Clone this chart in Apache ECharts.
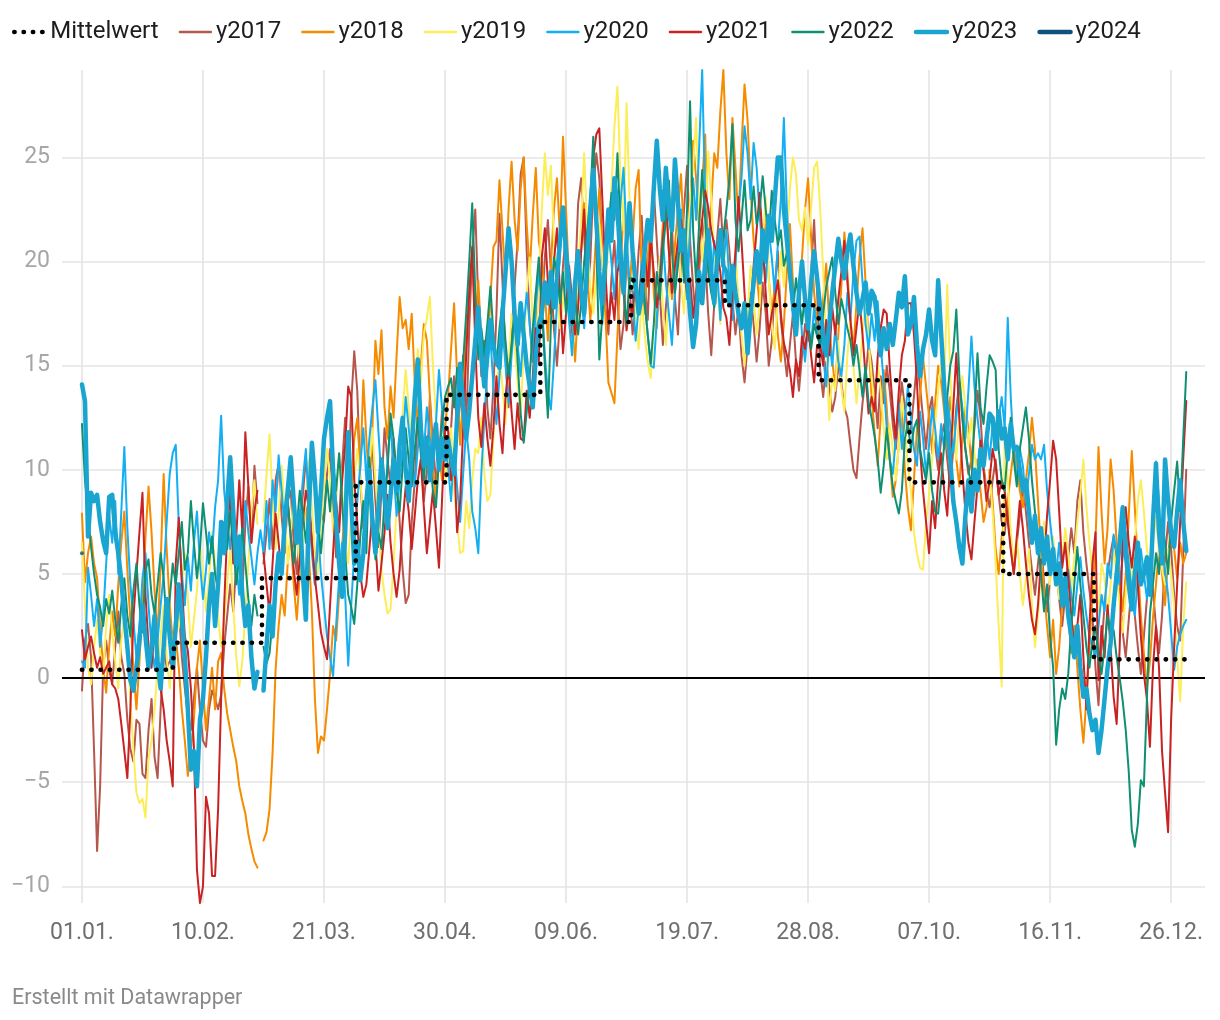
<!DOCTYPE html>
<html><head><meta charset="utf-8">
<script src="https://cdn.jsdelivr.net/npm/echarts@6/dist/echarts.min.js"></script>
<style>html,body{margin:0;padding:0;background:#fff}#c{width:1220px;height:1020px}</style>
</head><body><div id="c"></div>
<script>
// ---- axis ticks ----
const xTickPositions = [0,40,80,120,160,200,240,280,320,360];
const xTickLabels = ['01.01.','10.02.','21.03.','30.04.','09.06.','19.07.','28.08.','07.10.','16.11.','26.12.'];
const yTicks = [-10,-5,0,5,10,15,20,25];

// ---- long-term monthly mean (Mittelwert), days per month (leap-year calendar) ----
const monthDays = [31,29,31,30,31,30,31,31,30,31,30,31];
const mittelwertMonthly = [0.4,1.7,4.8,9.4,13.6,17.1,19.1,17.9,14.3,9.4,5.0,0.9];

// ---- daily values, one array per month ----
const y2017 = [
[-0.6,1.8,2.6,1.0,-3.5,-8.3,-5.2,0.5,1.8,0.4,-0.3,1.5,3.2,1.0,0.2,-2.0,-3.4,-4.0,-2.0,-2.2,-4.6,-4.8,-2.5,-1.0,-3.8,-4.8,-1.5,1.5,0.5,0.8,1.2],
[2.0,3.5,1.0,-0.5,-1.8,-2.5,-1.0,0.5,-1.5,-3.0,-3.3,-1.5,-0.6,-1.0,-1.5,-0.8,1.5,3.0,4.5,3.2,5.5,6.0,4.0,7.5,9.2,6.5,10.2,8.4],
[5.5,7.0,8.6,6.2,9.5,10.3,7.8,6.0,8.5,9.0,6.5,5.0,7.2,8.8,10.5,9.0,6.8,4.5,6.0,8.0,7.5,9.8,11.0,8.2,5.8,7.6,10.2,12.5,9.0,13.2,15.7],
[13.8,9.5,7.2,8.0,10.5,11.2,8.5,6.3,9.0,12.0,10.5,9.2,11.5,9.8,7.5,5.2,3.6,4.0,7.5,9.5,12.5,11.0,8.5,10.0,13.5,11.2,9.5,10.5,12.8,11.0],
[10.5,12.0,14.5,11.8,13.2,15.5,12.0,16.8,20.5,22.5,18.0,14.5,16.2,13.0,11.5,14.0,17.5,22.3,19.0,15.5,13.0,16.5,18.8,21.0,24.2,25.0,20.5,17.0,15.2,18.5,16.0],
[17.5,20.2,22.0,19.5,16.8,15.0,17.2,19.8,21.5,18.0,16.2,19.0,22.8,24.0,21.2,18.5,20.0,23.5,25.2,24.0,20.5,17.8,16.5,19.2,21.0,18.2,15.8,17.0,20.2,18.8],
[16.5,18.0,20.5,22.2,19.0,17.2,20.8,23.5,21.0,18.5,16.0,17.8,19.5,21.8,18.2,16.5,20.0,22.5,24.6,21.0,18.8,17.0,19.5,22.0,20.2,17.5,15.5,18.0,21.2,23.0,20.5],
[22.0,20.5,18.2,16.5,17.8,15.5,14.2,16.0,18.5,17.0,15.2,16.8,19.0,17.5,15.0,16.2,18.8,20.5,17.2,15.8,14.5,16.0,17.5,15.2,13.8,15.5,17.0,16.2,19.5,22.0,18.5],
[14.8,13.5,15.2,14.0,12.8,13.5,15.0,14.2,13.0,12.5,11.2,10.0,9.6,11.5,13.2,14.5,16.0,15.2,13.8,12.0,14.5,13.2,15.0,13.8,12.2,11.0,12.8,14.2,13.0,11.8],
[12.0,13.5,15.2,14.0,12.5,11.0,12.8,13.5,11.2,10.0,11.5,12.2,10.5,9.2,11.0,13.0,14.2,12.5,11.0,9.8,10.5,12.0,13.8,12.5,10.2,9.0,8.2,9.5,10.5,8.8,7.5],
[7.0,8.5,6.2,5.0,6.5,7.8,9.2,8.0,6.5,5.2,4.0,5.5,6.8,4.5,3.2,4.8,6.0,5.2,3.8,2.5,4.0,5.8,7.2,6.0,8.5,9.5,7.0,5.5,4.2,3.0],
[0.5,-1.3,1.5,3.5,5.0,6.0,6.8,5.2,4.0,2.2,1.0,2.8,4.5,3.0,1.5,0.2,2.0,3.8,5.5,4.2,2.5,1.2,3.0,5.8,7.5,6.2,4.0,2.5,1.8,6.0,10.0]
];
const y2018 = [
[7.9,4.6,6.0,6.8,5.5,4.8,2.5,0.5,-0.7,1.5,3.2,2.0,4.5,6.5,8.0,5.2,2.8,0.5,-1.5,0.8,3.5,6.8,9.2,7.0,4.2,2.0,5.5,9.8,6.2,3.5,1.8],
[2.0,0.5,-1.5,-3.0,-4.7,-3.5,-2.0,0.5,1.8,-0.5,-2.5,-1.0,0.5,-1.5,0.8,1.2,-0.5,-1.7,-2.5,-3.3,-4.0,-5.2,-5.9,-6.5,-7.5,-8.2,-8.8,-9.1],
[-7.8,-7.4,-6.3,-3.6,0.4,2.5,4.0,3.0,5.5,6.8,4.5,2.8,5.0,7.5,8.2,6.0,3.2,-1.0,-3.6,-2.8,-3.0,-1.5,0.2,2.5,1.8,4.0,6.3,8.5,10.2,9.0,11.5],
[12.5,10.0,14.3,11.5,8.8,12.0,16.2,14.6,16.7,13.0,11.5,14.0,12.5,15.5,18.3,16.8,17.2,15.8,17.5,14.2,12.0,15.0,17.0,16.2,13.5,10.2,8.5,11.0,9.5,12.0],
[13.5,15.8,18.0,14.5,11.2,13.8,16.5,19.2,20.4,17.0,19.1,16.2,14.0,15.5,18.2,20.7,21.0,23.9,21.5,19.0,22.5,24.8,22.0,20.5,23.5,25.0,21.8,19.5,22.2,24.5,21.0],
[20.0,18.5,16.2,19.8,22.5,24.0,21.2,26.0,22.5,19.0,17.5,15.2,18.0,20.5,22.8,19.5,17.2,18.8,21.5,23.5,20.0,17.5,14.2,13.7,13.2,16.5,19.5,22.5,20.8,18.5],
[21.0,23.5,24.4,19.4,17.5,20.2,22.0,18.5,16.8,19.5,21.8,23.0,20.5,18.2,20.8,22.5,24.2,21.0,19.2,22.5,25.8,24.0,21.5,23.8,26.1,20.2,22.8,25.2,24.5,27.2,29.2],
[25.2,23.0,26.9,24.5,22.0,25.5,28.5,26.8,23.5,21.0,19.5,17.8,20.5,22.0,19.2,17.5,18.8,16.5,15.2,17.0,19.5,21.8,19.0,16.8,18.5,20.2,22.5,24.0,21.2,18.5,17.0],
[16.5,18.2,19.9,17.0,15.2,14.0,16.5,18.8,21.4,19.5,17.2,15.8,18.0,20.2,21.6,19.0,16.2,13.5,11.8,10.2,12.5,14.8,13.0,10.5,8.7,9.5,11.2,12.8,10.0,8.2],
[7.1,9.5,12.0,13.5,15.4,14.0,12.5,10.8,13.2,15.0,14.2,12.8,11.0,13.5,12.2,10.5,9.2,11.5,13.0,12.0,10.2,8.8,10.5,9.0,7.5,8.2,10.0,8.5,6.2,5.0,6.8],
[7.6,8.5,9.8,11.0,10.2,9.0,8.2,9.5,10.8,12.5,11.0,8.5,6.0,4.2,2.5,1.0,2.8,0.2,1.5,3.5,4.8,3.0,1.2,2.5,0.5,-1.5,-3.1,-1.0,1.5,4.0],
[6.5,11.1,8.0,5.5,7.2,10.5,9.0,6.5,4.8,3.2,5.0,7.8,10.9,8.2,5.5,3.0,1.2,-0.5,0.8,2.9,4.5,6.2,5.0,3.5,5.8,7.5,6.2,4.8,6.5,5.5,6.0]
];
const y2019 = [
[6.5,3.5,0.5,-0.3,1.5,2.8,1.2,0.0,2.5,4.0,2.2,0.8,-0.5,1.8,3.0,1.5,-1.0,-3.5,-5.5,-6.0,-5.8,-6.7,-3.9,-3.0,-1.5,0.5,2.0,3.5,1.0,-0.5,1.5],
[3.0,2.4,4.5,6.0,3.8,1.5,2.8,4.2,6.5,5.0,3.2,4.8,7.0,5.5,3.0,1.5,2.8,4.5,6.2,3.5,1.0,-0.4,0.8,3.2,5.5,8.0,9.5,7.4],
[7.5,9.8,11.7,8.5,6.2,7.8,10.2,8.0,5.5,6.8,9.0,7.2,5.0,6.5,8.8,10.5,8.2,6.0,5.0,7.5,9.2,11.0,9.5,7.0,8.5,10.8,9.0,6.5,5.5,7.8,9.5],
[11.0,9.5,7.8,8.5,10.2,12.0,9.5,7.5,5.2,4.0,3.1,3.3,5.5,8.2,10.5,12.8,14.8,13.0,11.2,13.5,15.8,14.2,16.5,17.3,18.3,15.0,12.5,10.0,11.8,9.5],
[10.5,12.0,9.0,7.5,6.0,6.1,8.5,7.2,9.5,11.0,10.8,12.5,9.8,8.5,8.8,11.5,13.8,15.5,14.0,12.2,15.0,17.5,16.0,14.2,12.5,15.8,18.5,20.2,17.0,15.5,19.0],
[22.5,25.2,23.2,24.6,21.0,18.5,16.8,18.0,20.5,17.2,15.5,16.8,19.5,22.0,25.2,21.5,18.8,17.5,19.2,21.8,20.2,18.5,20.8,23.5,26.5,28.4,24.0,21.5,27.6,23.0],
[20.0,17.5,15.8,18.2,16.5,15.2,14.4,16.8,18.5,20.2,17.8,16.0,18.5,20.0,19.2,21.5,19.0,17.5,20.5,22.8,24.5,26.9,22.5,20.0,21.8,25.3,23.0,20.5,18.8,17.0,19.5],
[21.5,19.0,17.8,20.5,18.2,16.5,15.0,17.5,19.8,18.2,16.5,18.0,21.0,23.1,19.2,17.0,15.8,18.2,20.5,18.8,21.2,23.5,25.0,24.2,22.0,21.5,22.6,20.8,22.5,24.5,24.8],
[22.6,19.5,16.0,12.4,14.5,13.8,16.2,14.0,12.8,15.5,17.2,15.0,13.2,14.8,16.5,18.0,16.2,14.5,13.0,15.2,13.8,12.0,10.5,12.2,11.0,9.5,11.2,13.5,12.0,10.2],
[9.0,7.0,6.0,5.3,5.2,7.5,8.8,10.5,12.2,13.8,15.2,14.0,18.9,14.5,12.0,10.5,12.8,14.5,13.0,11.2,12.5,10.8,9.5,11.2,10.0,8.5,9.8,8.0,5.5,2.5,-0.4],
[12.2,9.5,7.0,5.5,6.8,5.0,3.5,4.8,6.2,3.5,1.5,3.0,5.2,7.5,6.0,4.5,6.8,5.2,3.8,5.5,7.2,6.0,4.2,5.8,7.5,8.8,10.5,8.2,6.5,5.0],
[4.0,3.2,5.5,4.8,3.0,4.5,6.2,5.0,3.5,2.2,4.0,5.8,4.5,6.5,8.5,9.5,8.0,6.2,5.0,6.5,7.8,6.0,5.2,4.5,6.2,5.0,3.5,1.0,-1.1,2.5,4.6]
];
const y2020 = [
[0.8,0.5,5.3,4.0,2.5,3.8,1.5,3.0,5.5,7.8,6.5,8.5,5.0,8.0,11.1,7.2,4.5,2.8,1.0,2.5,4.8,6.0,3.5,1.5,0.5,1.8,3.5,5.0,7.5,9.8,10.8],
[11.2,7.4,5.0,3.5,5.8,4.2,6.5,8.0,5.5,3.8,5.2,7.0,6.0,8.2,9.5,12.6,9.0,7.5,6.2,8.0,5.5,4.0,6.2,8.5,7.0,5.8,4.5,6.0,7.1],
[6.0,8.5,6.2,9.5,8.0,10.7,9.0,7.2,8.5,10.2,8.8,6.5,7.8,9.5,11.0,8.2,6.0,4.5,7.2,5.0,3.5,2.0,1.0,0.1,2.5,4.8,6.5,4.0,0.6,3.5,6.0],
[8.5,10.2,12.0,9.5,11.5,13.0,14.3,11.8,9.5,8.0,10.5,12.2,10.0,7.8,9.5,11.2,13.5,12.0,10.5,9.2,11.0,12.5,10.8,13.0,11.5,10.0,12.2,14.8,13.0,11.0],
[10.2,8.5,11.0,9.2,7.5,9.8,12.0,10.5,8.0,7.2,6.0,9.8,12.5,14.8,16.4,14.0,12.2,14.5,16.8,15.0,13.2,15.5,17.2,16.0,14.5,16.8,18.5,17.0,15.2,17.8,19.5],
[18.0,15.5,13.7,12.9,15.2,18.0,20.5,22.6,19.0,17.2,15.5,17.8,20.2,18.5,16.8,19.5,22.0,24.0,21.5,18.8,17.0,19.2,21.5,20.0,18.2,20.5,22.8,24.5,21.2,19.0],
[18.5,16.2,17.8,20.0,18.2,16.5,15.0,14.9,17.2,19.5,21.2,19.0,17.5,16.0,18.5,20.8,22.5,20.0,18.2,21.5,24.0,22.0,25.5,29.2,22.9,20.5,18.8,21.0,19.5,17.2,19.8],
[21.5,19.0,17.2,19.8,22.5,24.0,26.5,25.2,23.0,25.7,24.5,22.2,20.5,19.0,21.5,20.2,18.5,20.8,23.0,26.9,22.5,20.0,18.2,17.0,18.8,16.5,15.2,17.0,16.0,17.8,16.5],
[17.0,15.5,14.0,16.2,15.0,16.8,15.2,14.5,16.0,18.5,17.2,19.5,21.0,21.2,19.0,17.0,15.8,17.5,16.2,18.1,16.0,14.2,12.0,10.5,9.8,11.5,13.2,11.0,12.5,14.0],
[12.5,11.0,10.2,12.8,11.5,9.8,11.2,13.0,12.0,10.5,12.2,11.0,13.5,12.2,10.8,12.5,14.2,13.0,11.5,13.8,16.4,14.0,12.5,11.2,10.0,11.8,10.5,12.2,11.0,12.5,13.5],
[12.0,17.3,13.5,10.8,9.5,11.0,10.2,8.5,9.8,11.2,10.5,10.8,10.5,11.2,9.0,7.5,6.2,5.0,6.5,4.8,3.5,5.2,4.0,3.0,4.5,5.8,4.2,3.0,2.0,1.5],
[1.0,2.5,4.0,3.2,5.5,4.8,6.9,6.0,4.5,5.8,7.0,5.5,4.2,3.0,4.8,6.2,5.0,3.8,5.5,7.2,10.4,8.5,6.0,5.2,4.0,2.2,0.4,1.5,2.1,2.5,2.8]
];
const y2021 = [
[2.3,0.9,1.5,2.0,1.2,0.5,1.0,0.2,0.5,0.8,-0.3,-0.5,-1.0,-2.2,-3.5,-4.8,-1.5,2.9,5.0,7.0,8.9,4.0,1.5,0.5,2.4,1.0,-0.5,-1.5,-3.0,-4.0,-5.2],
[5.5,7.7,4.5,2.0,1.3,-0.5,-3.3,-9.2,-10.8,-10.0,-5.7,-6.5,-9.5,-9.5,-6.3,-1.0,3.5,7.0,9.0,5.5,6.8,9.5,7.0,11.8,9.2,6.5,8.0,9.0],
[6.0,4.5,3.1,5.5,7.9,6.5,5.0,7.2,8.5,6.8,5.2,4.0,5.8,7.5,9.0,8.2,6.5,4.8,3.5,2.2,1.5,0.9,3.5,6.0,8.5,7.0,9.5,11.2,14.0,13.5,9.5],
[7.5,5.0,3.9,4.5,6.2,8.0,6.5,4.2,5.5,7.0,8.8,6.5,5.0,3.9,5.2,7.5,9.2,8.0,6.2,7.8,9.5,10.5,8.2,6.0,7.5,9.0,7.2,5.3,8.5,11.9],
[11.9,9.5,10.8,7.0,8.5,12.0,15.5,18.5,20.7,16.0,12.5,11.1,13.2,11.5,10.2,12.0,14.5,12.2,10.8,13.5,15.0,12.8,11.0,13.2,11.5,11.4,13.8,12.5,14.5,16.8,15.2],
[20.2,21.6,19.0,17.5,20.0,21.6,18.5,15.6,17.5,19.8,18.2,16.5,17.8,20.5,22.5,19.0,22.5,25.0,26.1,26.4,23.0,19.5,17.0,18.5,17.2,19.5,20.2,18.8,16.7,18.0],
[17.5,19.2,18.0,19.5,20.5,18.8,21.2,19.5,17.8,19.0,21.0,22.9,20.5,18.5,19.8,21.0,22.0,20.2,18.5,19.2,17.3,18.5,20.8,22.0,23.4,22.6,21.5,20.8,20.4,19.5,17.8],
[17.3,16.0,18.5,20.5,23.1,21.0,18.5,16.2,17.5,19.8,21.5,23.3,21.0,18.5,16.5,17.5,18.2,19.1,17.5,16.1,15.5,14.8,13.5,15.3,14.5,16.4,15.8,17.0,15.5,14.2,16.0],
[16.0,15.0,17.2,15.5,17.8,16.5,18.2,19.5,21.0,19.0,17.2,15.5,16.8,18.1,16.5,14.5,12.7,13.5,12.8,15.4,16.8,17.7,17.5,14.9,13.0,11.5,13.8,15.5,16.2,18.0],
[18.0,16.5,14.2,11.0,9.0,7.5,6.0,8.5,7.2,9.5,10.8,9.0,7.8,10.5,13.0,15.6,12.5,10.0,8.0,6.5,5.7,7.5,9.2,11.4,10.0,8.5,9.5,11.0,10.2,8.8,9.5],
[9.0,7.5,6.2,5.0,6.8,8.5,7.2,5.5,4.0,2.8,2.1,3.5,5.7,5.5,7.8,9.5,11.4,10.5,8.0,5.3,6.5,4.8,3.0,1.5,2.5,4.0,1.0,-1.5,2.5,5.5],
[7.0,-0.1,2.5,1.0,3.5,1.5,-0.9,-2.2,1.5,7.0,8.2,6.5,5.3,6.8,4.5,2.0,0.2,-1.0,-3.3,0.5,2.5,0.5,-3.5,-5.5,-7.4,-2.0,1.5,4.5,7.5,10.5,13.3]
];
const y2022 = [
[12.2,9.5,8.0,6.3,5.0,4.0,3.4,2.5,3.8,3.1,4.2,2.8,1.7,3.5,4.8,3.0,2.0,4.2,5.5,3.5,2.2,5.2,5.7,4.0,3.1,4.5,6.0,4.8,2.5,3.8,5.5],
[4.5,6.0,7.5,5.2,6.0,8.5,6.5,4.8,6.2,8.4,7.0,5.5,6.8,5.0,4.2,5.8,7.5,6.2,8.0,6.5,4.5,5.8,7.2,5.5,3.8,2.5,4.0,3.0],
[1.5,0.7,1.2,2.8,4.5,6.0,5.2,7.0,8.5,6.8,5.5,7.2,9.0,8.0,6.5,8.2,10.0,9.2,7.5,6.0,7.8,9.5,8.0,10.2,9.0,10.8,8.5,6.0,4.0,3.4,2.6],
[4.5,6.8,8.5,6.0,10.6,8.2,5.7,7.0,6.2,8.5,10.0,12.7,11.5,9.0,8.0,10.2,12.0,10.5,9.2,11.0,12.5,10.8,9.5,11.6,10.8,9.0,8.2,10.5,12.2,13.5],
[14.0,14.4,13.0,14.9,13.5,15.2,17.5,20.0,22.8,18.5,15.3,16.8,15.5,17.0,18.8,16.5,15.0,16.8,18.1,16.2,14.5,16.0,17.8,15.2,12.7,11.3,12.8,14.5,16.8,18.5,20.2],
[18.0,15.0,12.5,17.0,20.2,19.5,18.0,19.5,17.5,18.8,17.2,18.5,16.5,18.0,20.0,21.5,22.9,26.0,21.0,15.3,17.5,20.0,21.5,23.3,22.0,25.2,21.5,18.5,17.0,19.2],
[19.2,18.5,17.8,19.5,18.0,16.5,15.1,17.0,19.5,18.2,20.5,22.0,23.9,20.5,18.5,19.8,21.5,19.0,22.5,27.7,21.5,19.0,21.8,24.4,22.0,19.5,18.5,17.8,19.5,20.5,21.2],
[22.5,24.0,26.6,22.0,20.5,22.0,23.9,21.5,22.0,23.6,21.8,22.5,24.1,22.5,21.0,23.4,22.0,20.8,21.5,19.8,20.4,19.0,17.5,19.2,18.1,17.0,18.5,17.2,15.8,17.0,16.4],
[16.0,17.5,18.8,19.5,20.2,18.5,17.0,18.2,17.5,16.8,16.2,15.0,16.0,14.8,13.5,15.0,13.2,12.5,11.6,10.5,8.9,10.2,12.0,10.5,9.2,8.5,7.9,9.0,11.5,12.2],
[11.0,12.0,12.4,11.0,10.2,9.5,10.8,9.0,8.0,7.9,9.5,11.2,13.5,15.0,15.7,17.7,14.5,12.5,11.0,10.0,9.2,12.5,15.6,13.0,12.2,14.0,15.5,15.2,14.8,11.0,9.5],
[9.0,11.0,12.5,10.5,9.2,11.0,12.0,13.0,11.5,9.5,8.0,6.5,5.0,3.2,4.5,2.0,0.5,-3.2,-1.5,-0.5,-1.0,0.2,2.5,4.5,6.3,4.5,3.0,1.5,0.5,1.8],
[2.5,1.0,0.2,1.5,3.0,2.0,2.3,1.0,0.0,-1.1,-2.5,-4.5,-7.3,-8.1,-7.0,-4.9,-5.2,-1.0,3.1,4.5,6.0,5.0,7.6,6.5,5.0,7.5,9.0,10.4,8.0,11.5,14.7]
];
const y2023 = [
[14.1,13.3,6.8,8.9,8.5,8.8,7.5,6.6,6.0,8.7,8.8,7.0,6.0,4.7,3.0,1.5,-0.1,-0.6,0.5,1.8,3.5,2.0,0.5,1.5,3.0,0.8,-0.5,1.5,3.8,2.0,0.5],
[2.5,4.5,3.0,1.0,-1.5,-4.4,-3.5,-5.2,-2.0,-1.0,1.0,3.5,5.0,2.5,4.5,7.5,6.0,8.5,10.6,8.0,5.5,6.8,4.0,2.5,3.5,1.0,-0.5,0.3],
[-0.6,1.5,3.5,2.0,4.5,6.0,5.0,7.5,9.0,10.6,8.5,6.5,8.0,5.0,2.8,8.0,11.3,9.5,7.0,9.0,11.5,12.5,13.3,10.0,7.5,5.5,3.9,7.0,11.8,8.5,5.5],
[6.5,4.7,6.0,8.5,10.0,7.5,6.0,8.2,10.5,9.0,7.2,8.8,10.5,9.0,11.2,12.5,10.0,8.5,11.0,13.5,15.3,12.0,10.2,11.5,9.5,11.0,12.2,10.0,11.5,10.5],
[11.5,10.5,9.8,12.5,15.1,13.0,11.5,12.8,14.5,16.2,17.8,15.5,14.0,15.8,17.2,16.0,15.2,14.9,17.5,19.5,21.6,20.0,17.5,16.0,18.0,16.5,15.0,14.0,13.0,15.5,17.0],
[17.5,19.0,18.0,19.5,17.8,19.2,21.0,22.6,20.5,18.8,17.0,19.0,20.5,18.5,17.5,19.8,22.5,24.4,22.0,19.5,18.0,20.0,22.5,21.0,24.0,22.5,20.0,18.5,21.0,22.8],
[20.5,19.0,17.5,18.3,20.5,22.0,21.0,23.5,25.8,23.5,22.0,24.5,22.5,21.5,24.9,22.8,20.5,21.5,19.5,17.5,15.9,17.0,19.5,18.0,20.0,21.5,19.5,18.0,20.2,21.5,19.8],
[19.5,18.0,19.8,18.5,17.5,16.8,18.0,15.6,17.5,19.0,20.5,19.0,21.5,20.0,22.2,21.0,23.0,25.0,25.0,22.5,21.0,19.5,18.0,16.5,18.5,20.0,18.2,16.8,19.0,20.5,19.2],
[17.8,16.5,15.5,17.0,18.5,19.8,21.1,20.0,19.2,20.5,21.3,19.8,18.5,17.5,18.2,19.0,17.5,18.6,18.3,17.0,15.5,16.8,15.8,17.0,16.0,17.2,18.5,17.8,19.3,16.5],
[17.0,18.3,16.0,14.5,15.8,16.5,17.7,16.2,15.5,19.1,16.5,14.0,12.0,10.5,8.5,7.5,6.3,5.5,7.8,9.5,8.0,10.0,9.0,11.0,10.2,11.5,12.7,12.5,11.0,12.8,11.5],
[12.0,10.5,12.2,11.0,11.1,10.0,9.0,9.5,8.0,6.5,7.8,6.0,7.2,5.5,6.8,5.0,6.2,4.5,5.5,3.5,4.8,3.0,2.0,1.0,2.5,0.5,-0.9,-0.5,-1.7,-2.5],
[-2.0,-3.6,-2.5,-1.0,0.5,1.7,3.5,5.0,6.5,8.2,6.0,4.5,3.3,5.0,6.5,4.5,5.0,5.8,4.0,7.5,10.3,7.0,5.5,10.5,8.5,7.0,6.3,8.0,9.5,7.5,6.1]
];
const y2024 = [6.0];

// ---- build ----
function expandYear(months, leap) {
  const out = [];
  months.forEach((m, i) => { m.forEach(v => out.push(v)); if (i === 1 && !leap) out.push(null); });
  return out;
}
function expandMonthly(vals) {
  const out = [];
  vals.forEach((v, i) => { for (let d = 0; d < monthDays[i]; d++) out.push(v); });
  return out;
}
const toXY = arr => arr.map((v, i) => [i, v]);

const years = [
  {name:'y2017', data: expandYear(y2017,false), color:'#b5574c', width:2},
  {name:'y2018', data: expandYear(y2018,false), color:'#f68b00', width:2},
  {name:'y2019', data: expandYear(y2019,false), color:'#fcee58', width:2},
  {name:'y2020', data: expandYear(y2020,true),  color:'#13aff2', width:2},
  {name:'y2021', data: expandYear(y2021,false), color:'#c92223', width:2},
  {name:'y2022', data: expandYear(y2022,false), color:'#109072', width:2},
  {name:'y2023', data: expandYear(y2023,false), color:'#1aa5d1', width:4.5},
  {name:'y2024', data: y2024, color:'#0b527d', width:4.5}
];
const FONT = 'Roboto';
const dotLine = {color:'#000', width:4.6, type:[0.3, 9.0], cap:'round'};

const series = years.map((y, k) => ({
  name: y.name, type:'line', data: toXY(y.data), symbol:'none', showSymbol:false,
  connectNulls:false, lineStyle:{color:y.color, width:y.width, cap:'round', join:'round'},
  itemStyle:{color:y.color}, emphasis:{disabled:true}, silent:true, z: 2 + k
}));
series.push({
  name:'y2024pt', type:'scatter', data: toXY(y2024), symbol:'circle', symbolSize:4,
  itemStyle:{color:'#0b527d'}, silent:true, z: 12
});
series.push({
  name:'Mittelwert', type:'line', step:'middle', data: toXY(expandMonthly(mittelwertMonthly)),
  symbol:'none', showSymbol:false, lineStyle: dotLine, itemStyle:{color:'#000'},
  emphasis:{disabled:true}, silent:true, z: 15,
  markLine:{silent:true, symbol:'none', label:{show:false}, animation:false,
    lineStyle:{color:'#000', width:2, type:'solid'}, data:[{yAxis:0}]}
});

const legendData = [{name:'Mittelwert', lineStyle: Object.assign({opacity:1}, dotLine), itemStyle:{opacity:0}}].concat(
  years.map(y => ({name:y.name, lineStyle:{width: y.width === 2 ? 2.4 : 4.5, cap:'round', color:y.color, opacity:1}, itemStyle:{opacity:0}}))
);

const chart = echarts.init(document.getElementById('c'));
chart.setOption({
  animation:false,
  backgroundColor:'#fff',
  textStyle:{fontFamily:FONT},
  legend:{
    data: legendData, left:7, top:15, itemWidth:31, itemHeight:14, itemGap:20,
    itemStyle:{opacity:0},
    textStyle:{fontFamily:FONT, fontSize:24, color:'#1d1d1d'}, selectedMode:false
  },
  grid:{left:62, right:15, top:70, bottom:117, containLabel:false, outerBoundsMode:'none'},
  xAxis:{
    type:'value', min:-6.6, max:371.2,
    axisLine:{show:false},
    axisTick:{show:false, customValues:xTickPositions},
    axisLabel:{customValues:xTickPositions, margin:19, fontFamily:FONT, fontSize:23, color:'#6f6f6f',
      formatter: v => { const i = xTickPositions.indexOf(v); return i >= 0 ? xTickLabels[i] : ''; }},
    splitLine:{show:true, lineStyle:{color:'#e4e4e4', width:1.6}}
  },
  yAxis:{
    type:'value', min:-10.8, max:29.2,
    axisLine:{show:false},
    axisTick:{show:false, customValues:yTicks},
    axisLabel:{customValues:yTicks, margin:12, fontFamily:FONT, fontSize:23, color:'#a6a6a6',
      formatter: v => v < 0 ? '\u2212' + Math.abs(v) : String(v)},
    splitLine:{show:true, lineStyle:{color: yTicks.map(v => v === 0 ? '#000' : '#e4e4e4'), width:1.6}}
  },
  graphic:[{type:'text', left:12, top:988, style:{text:'Erstellt mit Datawrapper', fontFamily:FONT, fontSize:21.5, fill:'#8a8a8a'}}],
  series: series
});
</script></body></html>
